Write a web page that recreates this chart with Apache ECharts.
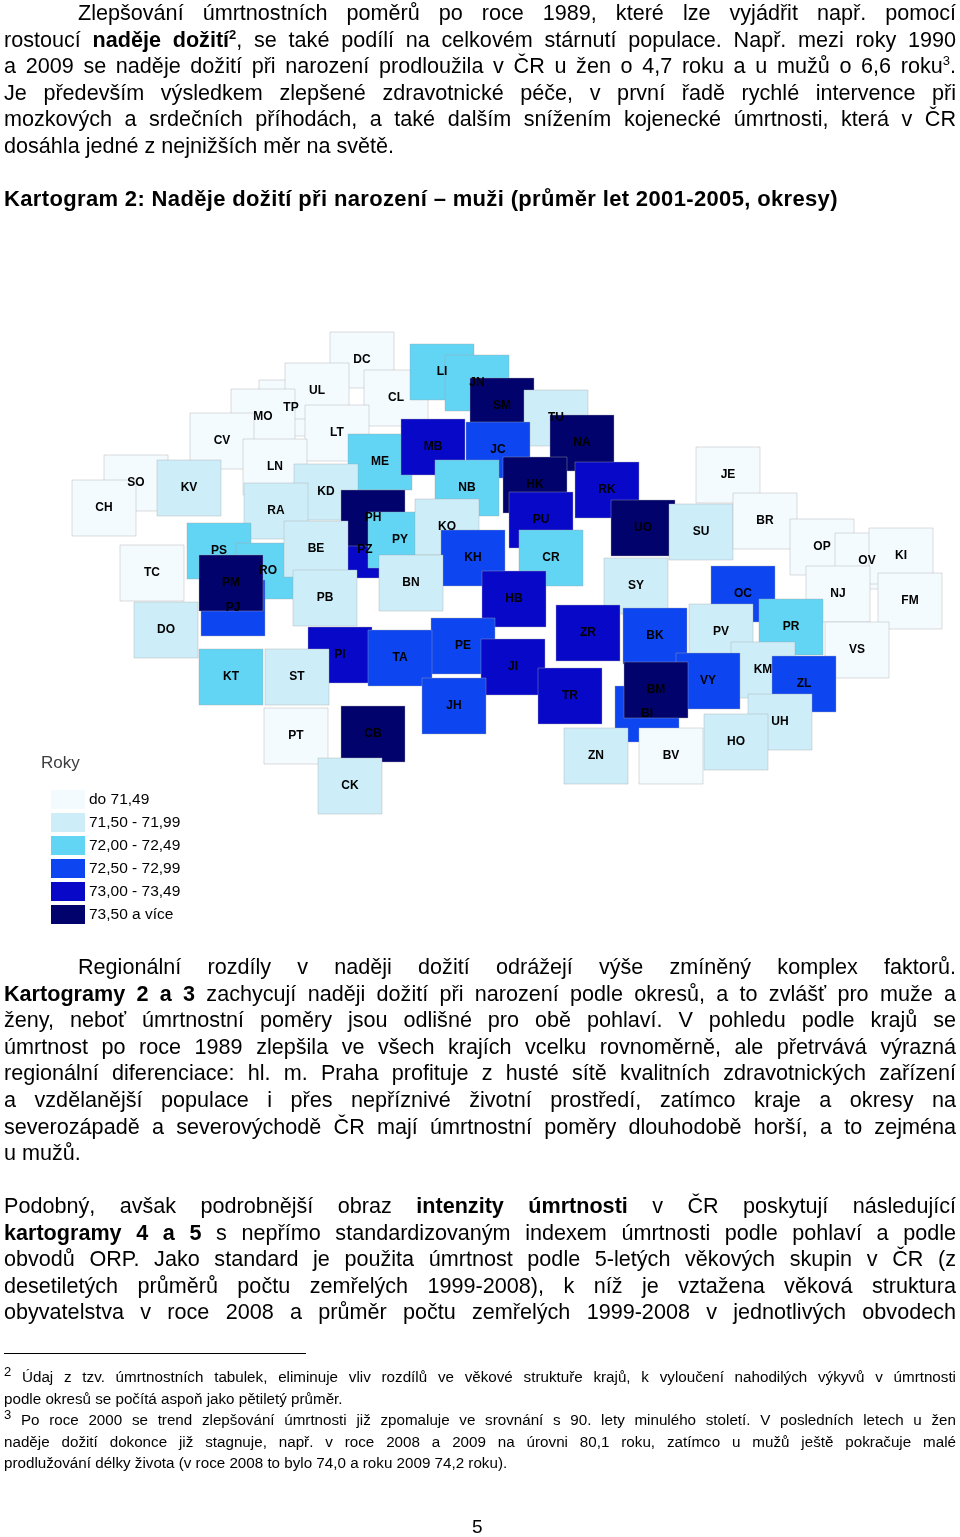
<!DOCTYPE html><html><head><meta charset="utf-8">
<script src="https://cdn.jsdelivr.net/npm/echarts@6/dist/echarts.min.js"></script>
<style>
body{margin:0;width:960px;height:1537px;position:relative;font-family:"Liberation Sans",Arial,sans-serif;color:#000;background:#fff}
#c{position:absolute;left:0;top:0;width:960px;height:1537px}
.t{position:absolute;left:4px;width:952px;font-size:21.6px;line-height:26.6px;z-index:2}
.t div,.fn div{text-align:justify;text-align-last:justify;white-space:nowrap;overflow:visible}
.t div.e,.fn div.e{text-align-last:left}
.fn{position:absolute;left:4px;width:952px;font-size:15.2px;line-height:21.5px;z-index:2}
sup{font-size:13px;line-height:0}
</style></head><body>
<div id="c"></div>
<div class="t" style="top:0px">
<div style="padding-left:74px">Zlepšování úmrtnostních poměrů po roce 1989, které lze vyjádřit např. pomocí</div>
<div>rostoucí <b>naděje dožití</b><sup><b>2</b></sup>, se také podílí na celkovém stárnutí populace. Např. mezi roky 1990</div>
<div>a 2009 se naděje dožití při narození prodloužila v ČR u žen o 4,7 roku a u mužů o 6,6 roku<sup>3</sup>.</div>
<div>Je především výsledkem zlepšené zdravotnické péče, v první řadě rychlé intervence při</div>
<div>mozkových a srdečních příhodách, a také dalším snížením kojenecké úmrtnosti, která v ČR</div>
<div class="e">dosáhla jedné z nejnižších měr na světě.</div>
</div>
<div class="t" style="top:186px;font-size:22px;letter-spacing:0.35px"><b>Kartogram 2: Naděje dožití při narození – muži (průměr let 2001-2005, okresy)</b></div>
<div class="t" style="top:954px">
<div style="padding-left:74px">Regionální rozdíly v naději dožití odrážejí výše zmíněný komplex faktorů.</div>
<div><b>Kartogramy 2 a 3</b> zachycují naději dožití při narození podle okresů, a to zvlášť pro muže a</div>
<div>ženy, neboť úmrtnostní poměry jsou odlišné pro obě pohlaví. V pohledu podle krajů se</div>
<div>úmrtnost po roce 1989 zlepšila ve všech krajích vcelku rovnoměrně, ale přetrvává výrazná</div>
<div>regionální diferenciace: hl. m. Praha profituje z husté sítě kvalitních zdravotnických zařízení</div>
<div>a vzdělanější populace i přes nepříznivé životní prostředí, zatímco kraje a okresy na</div>
<div>severozápadě a severovýchodě ČR mají úmrtnostní poměry dlouhodobě horší, a to zejména</div>
<div class="e">u mužů.</div>
</div>
<div class="t" style="top:1193px">
<div>Podobný, avšak podrobnější obraz <b>intenzity úmrtnosti</b> v ČR poskytují následující</div>
<div><b>kartogramy 4 a 5</b> s nepřímo standardizovaným indexem úmrtnosti podle pohlaví a podle</div>
<div>obvodů ORP. Jako standard je použita úmrtnost podle 5-letých věkových skupin v ČR (z</div>
<div>desetiletých průměrů počtu zemřelých 1999-2008), k níž je vztažena věková struktura</div>
<div>obyvatelstva v roce 2008 a průměr počtu zemřelých 1999-2008 v jednotlivých obvodech</div>
</div>
<div style="position:absolute;left:4px;top:1353px;width:302px;border-top:1px solid #000"></div>
<div class="fn" style="top:1366px">
<div><sup>2</sup> Údaj z tzv. úmrtnostních tabulek, eliminuje vliv rozdílů ve věkové struktuře krajů, k vyloučení nahodilých výkyvů v úmrtnosti</div>
<div class="e">podle okresů se počítá aspoň jako pětiletý průměr.</div>
<div><sup>3</sup> Po roce 2000 se trend zlepšování úmrtnosti již zpomaluje ve srovnání s 90. lety minulého století. V posledních letech u žen</div>
<div>naděje dožití dokonce již stagnuje, např. v roce 2008 a 2009 na úrovni 80,1 roku, zatímco u mužů ještě pokračuje malé</div>
<div class="e">prodlužování délky života (v roce 2008 to bylo 74,0 a roku 2009 74,2 roku).</div>
</div>
<div class="t" style="top:1514px;left:472px;width:30px;font-size:19px">5</div>
<script>
const districts=["DC","CL","LI","JN","SM","TU","NA","TP","UL","MO","LT","CV","LN","ME","MB","JC","SO","KV","CH","KD","RA","NB","HK","RK","PZ","PH","PY","KO","PU","UO","SU","JE","BR","OP","OV","KI","PS","RO","TC","BE","KH","CR","SY","BN","PB","PJ","PM","OC","NJ","FM","PR","PV","DO","HB","PE","ZR","BK","PI","TA","JI","VS","KT","ST","KM","ZL","VY","BI","BM","TR","JH","CB","UH","HO","PT","ZN","BV","CK"];
const posX=[362,396,442,477,502,556,582,291,317,263,337,222,275,380,433,498,136,189,104,326,276,467,535,607,365,373,400,447,541,643,701,728,765,822,867,901,219,268,152,316,473,551,636,411,325,233,231,743,838,910,791,721,166,514,463,588,655,340,400,513,857,231,297,763,804,708,647,656,570,454,373,780,736,296,596,671,350];
const posY=[360,398,372,383,406,418,443,408,391,417,433,441,467,462,447,450,483,488,508,492,511,488,485,490,550,518,540,527,520,528,532,475,521,547,561,556,551,571,573,549,558,558,586,583,598,608,583,594,594,601,627,632,630,599,646,633,636,655,658,667,650,677,677,670,684,681,714,690,696,706,734,722,742,736,756,756,786];
const lifeClass=[0,0,2,2,5,1,5,0,0,0,0,0,0,2,4,3,0,1,0,1,1,2,5,4,4,5,2,1,4,5,1,0,0,0,0,0,2,2,0,1,3,2,1,1,1,3,5,3,0,0,2,1,1,4,3,4,3,4,3,4,0,2,1,1,3,3,3,5,4,3,5,1,1,0,1,0,1];
const legendLabels=["do 71,49","71,50 - 71,99","72,00 - 72,49","72,50 - 72,99","73,00 - 73,49","73,50 a více"];
const colors=["#f3fbfe","#cdeef9","#62d4f4","#0d45f0","#0808c8","#02026c"];
const data=districts.map((d,i)=>({name:d,value:[posX[i],posY[i],lifeClass[i]]}));
const ch=echarts.init(document.getElementById('c'));
ch.setOption({
 animation:false,
 grid:{left:0,right:0,top:0,bottom:0},
 xAxis:{type:'value',min:0,max:960,show:false},
 yAxis:{type:'value',min:0,max:1537,inverse:true,show:false},
 title:{text:'Roky',left:36,top:750,textStyle:{fontSize:17,fontWeight:'normal',fontFamily:'Liberation Sans Narrow, Liberation Sans'}},
 visualMap:{type:'piecewise',dimension:2,left:36,top:775,orient:'vertical',inverse:true,
  itemWidth:34,itemHeight:19,itemGap:4,itemSymbol:'rect',showLabel:true,
  pieces:legendLabels.map((l,i)=>({value:i,label:l,color:colors[i]})),
  textStyle:{fontSize:15.5,fontFamily:'Liberation Sans Narrow, Liberation Sans',color:'#000'},
  textGap:4},
 series:[{type:'scatter',data:data,symbol:'rect',symbolSize:[64,56],
  itemStyle:{borderColor:'#aaa',borderWidth:0.4,opacity:1},
  label:{show:true,formatter:p=>p.name,color:'#000',fontSize:12,fontWeight:'bold',fontFamily:'Liberation Sans'}}]
});
</script></body></html>
